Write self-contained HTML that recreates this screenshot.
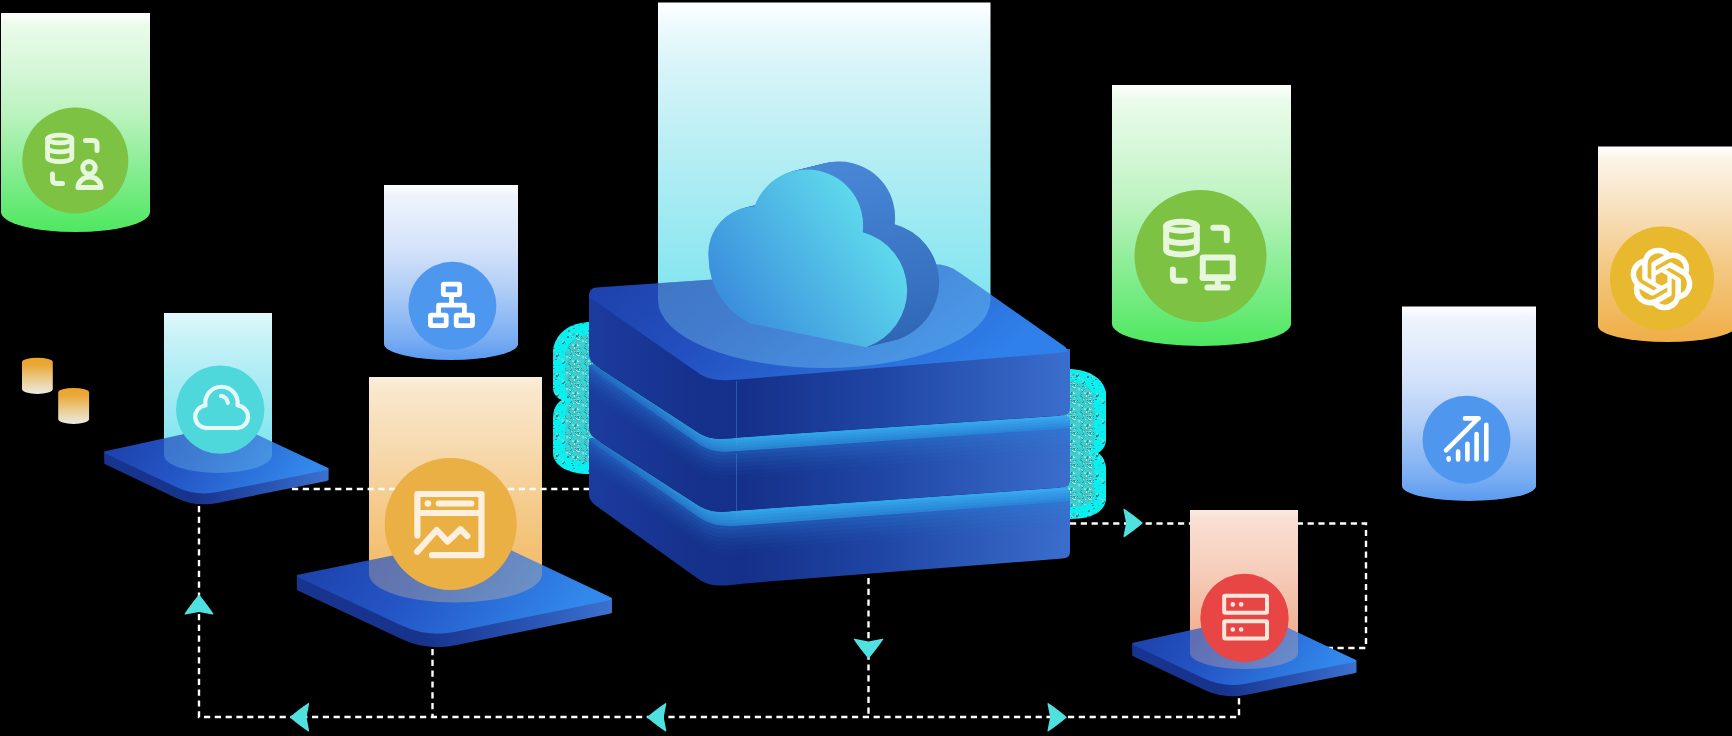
<!DOCTYPE html>
<html><head><meta charset="utf-8"><style>
html,body{margin:0;padding:0;background:#000;width:1732px;height:736px;overflow:hidden}
svg{display:block}
</style></head><body>
<svg width="1732" height="736" viewBox="0 0 1732 736">
<defs><linearGradient id="gA" gradientUnits="objectBoundingBox" x1="0" y1="0" x2="0" y2="1"><stop offset="0" stop-color="#ffffff"/><stop offset="0.06" stop-color="#eafbea"/><stop offset="0.25" stop-color="#d6f7d8"/><stop offset="0.45" stop-color="#bdf3c0"/><stop offset="0.75" stop-color="#80ec8c"/><stop offset="1" stop-color="#4ee860"/></linearGradient>
<linearGradient id="gB" gradientUnits="objectBoundingBox" x1="0" y1="0" x2="0" y2="1"><stop offset="0" stop-color="#ffffff"/><stop offset="0.06" stop-color="#eef4fd"/><stop offset="0.37" stop-color="#d4e2fa"/><stop offset="0.6" stop-color="#b0cdf6"/><stop offset="0.89" stop-color="#78acf2"/><stop offset="1" stop-color="#5a9af0"/></linearGradient>
<linearGradient id="gS" gradientUnits="objectBoundingBox" x1="0" y1="0" x2="0" y2="1"><stop offset="0" stop-color="#eca42a"/><stop offset="0.2" stop-color="#eaa838"/><stop offset="0.6" stop-color="#e9cc90"/><stop offset="1" stop-color="#ecebe4"/></linearGradient>
<linearGradient id="gC" gradientUnits="objectBoundingBox" x1="0" y1="0" x2="0" y2="1"><stop offset="0" stop-color="#ffffff"/><stop offset="0.05" stop-color="#f0fbfd"/><stop offset="0.16" stop-color="#daf5f9"/><stop offset="0.4" stop-color="#b8eef4"/><stop offset="0.76" stop-color="#88e6f0"/><stop offset="1" stop-color="#70e0ee"/></linearGradient>
<linearGradient id="p1t" gradientUnits="objectBoundingBox" x1="0" y1="0" x2="1" y2="0.2"><stop offset="0" stop-color="#1c3ea6"/><stop offset="0.45" stop-color="#2456c6"/><stop offset="1" stop-color="#3288ec"/></linearGradient>
<linearGradient id="p1s" gradientUnits="objectBoundingBox" x1="0" y1="0" x2="1" y2="0"><stop offset="0" stop-color="#17348f"/><stop offset="0.4" stop-color="#18338c"/><stop offset="0.75" stop-color="#2a55b4"/><stop offset="1" stop-color="#3d72d0"/></linearGradient>
<linearGradient id="gD" gradientUnits="objectBoundingBox" x1="0" y1="0" x2="0" y2="1"><stop offset="0" stop-color="#ffffff"/><stop offset="0.06" stop-color="#fcf4e8"/><stop offset="0.3" stop-color="#f8e2c2"/><stop offset="0.6" stop-color="#f4c986"/><stop offset="1" stop-color="#f0ae46"/></linearGradient>
<linearGradient id="p2t" gradientUnits="objectBoundingBox" x1="0" y1="0" x2="1" y2="0.2"><stop offset="0" stop-color="#1c3ea6"/><stop offset="0.45" stop-color="#2456c6"/><stop offset="1" stop-color="#3288ec"/></linearGradient>
<linearGradient id="p2s" gradientUnits="objectBoundingBox" x1="0" y1="0" x2="1" y2="0"><stop offset="0" stop-color="#17348f"/><stop offset="0.4" stop-color="#18338c"/><stop offset="0.75" stop-color="#2a55b4"/><stop offset="1" stop-color="#3d72d0"/></linearGradient>
<linearGradient id="gE" gradientUnits="objectBoundingBox" x1="0" y1="0" x2="0" y2="1"><stop offset="0" stop-color="#ffffff"/><stop offset="0.05" stop-color="#f0fbfd"/><stop offset="0.16" stop-color="#daf5f9"/><stop offset="0.4" stop-color="#b8eef4"/><stop offset="0.76" stop-color="#88e6f0"/><stop offset="1" stop-color="#70e0ee"/></linearGradient>
<pattern id="spk" width="16" height="16" patternUnits="userSpaceOnUse"><rect width="16" height="16" fill="#40cccc"/><rect x="14" y="14" width="2" height="2" fill="#2cb0b0"/><rect x="6" y="5" width="2" height="2" fill="#00eeee"/><rect x="5" y="3" width="2" height="1" fill="#40b4b4"/><rect x="2" y="1" width="2" height="1" fill="#b4ecec"/><rect x="5" y="0" width="1" height="1" fill="#1e9c9c"/><rect x="6" y="7" width="1" height="1" fill="#60c8c8"/><rect x="14" y="6" width="1" height="2" fill="#60c8c8"/><rect x="15" y="0" width="1" height="1" fill="#b4ecec"/><rect x="8" y="13" width="1" height="2" fill="#60c8c8"/><rect x="10" y="7" width="1" height="1" fill="#1e9c9c"/><rect x="3" y="12" width="1" height="1" fill="#8adcdc"/><rect x="2" y="0" width="1" height="1" fill="#40b4b4"/><rect x="1" y="15" width="2" height="2" fill="#8adcdc"/><rect x="13" y="2" width="1" height="2" fill="#60c8c8"/><rect x="10" y="2" width="1" height="1" fill="#1e9c9c"/><rect x="13" y="3" width="1" height="1" fill="#b4ecec"/><rect x="3" y="0" width="1" height="1" fill="#2cb0b0"/><rect x="15" y="5" width="1" height="1" fill="#00eeee"/><rect x="6" y="4" width="2" height="2" fill="#8adcdc"/><rect x="3" y="12" width="2" height="1" fill="#1e9c9c"/><rect x="8" y="9" width="1" height="1" fill="#40b4b4"/><rect x="12" y="3" width="1" height="1" fill="#40b4b4"/><rect x="14" y="8" width="1" height="2" fill="#60c8c8"/><rect x="9" y="12" width="1" height="1" fill="#1e9c9c"/><rect x="6" y="7" width="1" height="2" fill="#60c8c8"/><rect x="11" y="14" width="1" height="2" fill="#8adcdc"/><rect x="4" y="12" width="1" height="2" fill="#40b4b4"/><rect x="9" y="7" width="1" height="2" fill="#40b4b4"/><rect x="5" y="6" width="2" height="1" fill="#00eeee"/><rect x="2" y="13" width="1" height="1" fill="#1e9c9c"/><rect x="1" y="8" width="1" height="2" fill="#b4ecec"/><rect x="12" y="8" width="2" height="2" fill="#8adcdc"/><rect x="9" y="5" width="1" height="1" fill="#40b4b4"/><rect x="15" y="2" width="1" height="1" fill="#40b4b4"/><rect x="0" y="2" width="1" height="1" fill="#8adcdc"/><rect x="7" y="1" width="1" height="1" fill="#60c8c8"/><rect x="11" y="4" width="1" height="1" fill="#40b4b4"/><rect x="14" y="10" width="1" height="2" fill="#1e9c9c"/><rect x="0" y="15" width="1" height="2" fill="#60c8c8"/><rect x="1" y="0" width="1" height="1" fill="#1e9c9c"/><rect x="9" y="10" width="1" height="1" fill="#1e9c9c"/><rect x="14" y="11" width="1" height="2" fill="#b4ecec"/><rect x="4" y="10" width="1" height="1" fill="#b4ecec"/><rect x="15" y="2" width="2" height="1" fill="#2cb0b0"/><rect x="15" y="0" width="2" height="1" fill="#00eeee"/><rect x="0" y="2" width="1" height="1" fill="#b4ecec"/><rect x="3" y="8" width="2" height="2" fill="#60c8c8"/><rect x="12" y="14" width="2" height="1" fill="#2cb0b0"/><rect x="2" y="0" width="1" height="2" fill="#1e9c9c"/><rect x="15" y="0" width="1" height="2" fill="#1e9c9c"/><rect x="15" y="15" width="1" height="1" fill="#60c8c8"/><rect x="9" y="4" width="1" height="2" fill="#40b4b4"/><rect x="10" y="14" width="2" height="1" fill="#60c8c8"/><rect x="12" y="8" width="1" height="2" fill="#8adcdc"/><rect x="6" y="6" width="2" height="1" fill="#00eeee"/><rect x="10" y="6" width="1" height="1" fill="#8adcdc"/><rect x="11" y="1" width="1" height="1" fill="#2cb0b0"/><rect x="5" y="3" width="2" height="1" fill="#60c8c8"/><rect x="6" y="13" width="2" height="2" fill="#00eeee"/><rect x="15" y="10" width="2" height="1" fill="#1e9c9c"/><rect x="1" y="8" width="1" height="2" fill="#b4ecec"/><rect x="8" y="11" width="1" height="2" fill="#2cb0b0"/><rect x="0" y="4" width="2" height="1" fill="#40b4b4"/><rect x="0" y="8" width="1" height="1" fill="#2cb0b0"/><rect x="1" y="3" width="2" height="1" fill="#b4ecec"/><rect x="11" y="2" width="1" height="1" fill="#2cb0b0"/><rect x="15" y="8" width="1" height="2" fill="#1e9c9c"/><rect x="15" y="1" width="1" height="1" fill="#60c8c8"/><rect x="11" y="5" width="2" height="2" fill="#40b4b4"/><rect x="2" y="13" width="2" height="1" fill="#8adcdc"/><rect x="14" y="6" width="1" height="1" fill="#00eeee"/><rect x="10" y="14" width="1" height="2" fill="#40b4b4"/><rect x="3" y="3" width="1" height="1" fill="#8adcdc"/><rect x="2" y="9" width="1" height="1" fill="#b4ecec"/><rect x="0" y="11" width="1" height="1" fill="#8adcdc"/><rect x="10" y="13" width="1" height="1" fill="#1e9c9c"/><rect x="6" y="2" width="2" height="1" fill="#40b4b4"/><rect x="10" y="4" width="2" height="1" fill="#00eeee"/><rect x="14" y="15" width="1" height="1" fill="#8adcdc"/><rect x="9" y="5" width="1" height="1" fill="#b4ecec"/><rect x="12" y="6" width="1" height="1" fill="#00eeee"/><rect x="8" y="15" width="1" height="1" fill="#00eeee"/><rect x="3" y="0" width="2" height="1" fill="#00eeee"/><rect x="1" y="12" width="1" height="1" fill="#1e9c9c"/><rect x="5" y="2" width="2" height="1" fill="#2cb0b0"/><rect x="12" y="8" width="1" height="1" fill="#8adcdc"/><rect x="4" y="10" width="2" height="1" fill="#00eeee"/><rect x="10" y="3" width="1" height="1" fill="#00eeee"/><rect x="0" y="8" width="1" height="2" fill="#2cb0b0"/><rect x="0" y="1" width="1" height="1" fill="#40b4b4"/></pattern>
<pattern id="rim" width="20" height="20" patternUnits="userSpaceOnUse"><rect width="20" height="20" fill="#08f0f0"/><rect x="18" y="5" width="2" height="1" fill="#40c0c0"/><rect x="15" y="17" width="2" height="1" fill="#40c0c0"/><rect x="16" y="15" width="2" height="2" fill="#0a8a8a"/><rect x="9" y="13" width="2" height="2" fill="#70d8d8"/><rect x="1" y="19" width="2" height="2" fill="#70d8d8"/><rect x="8" y="10" width="2" height="2" fill="#20a0a0"/><rect x="3" y="1" width="2" height="2" fill="#20a0a0"/><rect x="2" y="11" width="1" height="2" fill="#40c0c0"/><rect x="7" y="16" width="2" height="2" fill="#0a8a8a"/><rect x="11" y="16" width="2" height="2" fill="#70d8d8"/><rect x="12" y="5" width="2" height="1" fill="#0a8a8a"/><rect x="11" y="17" width="1" height="1" fill="#20a0a0"/><rect x="2" y="3" width="2" height="1" fill="#0a8a8a"/><rect x="13" y="8" width="2" height="1" fill="#20a0a0"/><rect x="12" y="14" width="2" height="2" fill="#40c0c0"/><rect x="18" y="17" width="2" height="2" fill="#70d8d8"/><rect x="2" y="0" width="2" height="2" fill="#70d8d8"/><rect x="11" y="3" width="2" height="1" fill="#0a8a8a"/><rect x="17" y="14" width="2" height="2" fill="#20a0a0"/><rect x="15" y="19" width="2" height="1" fill="#0a8a8a"/><rect x="19" y="9" width="2" height="2" fill="#70d8d8"/><rect x="16" y="13" width="2" height="2" fill="#70d8d8"/><rect x="12" y="0" width="2" height="2" fill="#40c0c0"/><rect x="5" y="3" width="1" height="2" fill="#40c0c0"/><rect x="19" y="9" width="2" height="1" fill="#40c0c0"/><rect x="13" y="13" width="2" height="2" fill="#40c0c0"/></pattern>
<linearGradient id="stS" gradientUnits="objectBoundingBox" x1="0" y1="0" x2="1" y2="0"><stop offset="0" stop-color="#1b3b9e"/><stop offset="0.22453222453222454" stop-color="#16318c"/><stop offset="0.32432432432432434" stop-color="#15308a"/><stop offset="0.6" stop-color="#1f45a4"/><stop offset="1" stop-color="#3a6ecd"/></linearGradient>
<linearGradient id="bdS" gradientUnits="objectBoundingBox" x1="0" y1="0" x2="1" y2="0"><stop offset="0" stop-color="#2470c4"/><stop offset="0.22453222453222454" stop-color="#2c92da"/><stop offset="0.32432432432432434" stop-color="#30a4e6"/><stop offset="0.6" stop-color="#32a4ea"/><stop offset="1" stop-color="#38a8f2"/></linearGradient>
<linearGradient id="topF" gradientUnits="objectBoundingBox" x1="0" y1="0" x2="1" y2="0.3"><stop offset="0" stop-color="#1d3fa8"/><stop offset="0.4" stop-color="#2350c0"/><stop offset="1" stop-color="#2f80ea"/></linearGradient>
<clipPath id="topclip"><path d="M589,296 Q589,288 596,287.5 L930,264.5 Q947,263 960,273 L1064,346 Q1070,350.5 1066,352.3 L745,379 C725,380.6 710,382 697,372 L589,297 Z"/></clipPath>
<linearGradient id="cx" gradientUnits="objectBoundingBox" x1="0" y1="0" x2="0" y2="1"><stop offset="0" stop-color="#4a86d6"/><stop offset="1" stop-color="#2f68b6"/></linearGradient>
<linearGradient id="cext" gradientUnits="userSpaceOnUse" x1="0" y1="160" x2="0" y2="350"><stop offset="0" stop-color="#4a88d8"/><stop offset="1" stop-color="#2e66b4"/></linearGradient>
<linearGradient id="cfront" gradientUnits="userSpaceOnUse" x1="730" y1="320" x2="890" y2="210"><stop offset="0" stop-color="#3a8cdc"/><stop offset="1" stop-color="#62e2ee"/></linearGradient>
<linearGradient id="gF" gradientUnits="objectBoundingBox" x1="0" y1="0" x2="0" y2="1"><stop offset="0" stop-color="#ffffff"/><stop offset="0.06" stop-color="#eafbea"/><stop offset="0.25" stop-color="#d6f7d8"/><stop offset="0.45" stop-color="#bdf3c0"/><stop offset="0.75" stop-color="#80ec8c"/><stop offset="1" stop-color="#4ee860"/></linearGradient>
<linearGradient id="gG" gradientUnits="objectBoundingBox" x1="0" y1="0" x2="0" y2="1"><stop offset="0" stop-color="#ffffff"/><stop offset="0.06" stop-color="#eef4fd"/><stop offset="0.37" stop-color="#d4e2fa"/><stop offset="0.6" stop-color="#b0cdf6"/><stop offset="0.89" stop-color="#78acf2"/><stop offset="1" stop-color="#5a9af0"/></linearGradient>
<linearGradient id="gH" gradientUnits="objectBoundingBox" x1="0" y1="0" x2="0" y2="1"><stop offset="0" stop-color="#ffffff"/><stop offset="0.06" stop-color="#fcf4e8"/><stop offset="0.3" stop-color="#f8e2c2"/><stop offset="0.6" stop-color="#f4c986"/><stop offset="1" stop-color="#f0ae46"/></linearGradient>
<linearGradient id="gI" gradientUnits="objectBoundingBox" x1="0" y1="0" x2="0" y2="1"><stop offset="0" stop-color="#ffffff"/><stop offset="0.06" stop-color="#fcf0ea"/><stop offset="0.35" stop-color="#f8dacb"/><stop offset="0.7" stop-color="#f2b49a"/><stop offset="1" stop-color="#ee9474"/></linearGradient>
<linearGradient id="p3t" gradientUnits="objectBoundingBox" x1="0" y1="0" x2="1" y2="0.2"><stop offset="0" stop-color="#1c3ea6"/><stop offset="0.45" stop-color="#2456c6"/><stop offset="1" stop-color="#3288ec"/></linearGradient>
<linearGradient id="p3s" gradientUnits="objectBoundingBox" x1="0" y1="0" x2="1" y2="0"><stop offset="0" stop-color="#17348f"/><stop offset="0.4" stop-color="#18338c"/><stop offset="0.75" stop-color="#2a55b4"/><stop offset="1" stop-color="#3d72d0"/></linearGradient></defs>
<rect width="1732" height="736" fill="#000"/>
<path d="M199,506 V717 H1239 V697" stroke="#ffffff" stroke-width="2.4" stroke-dasharray="6.2 4.6" fill="none"/>
<path d="M432.5,649 V717" stroke="#ffffff" stroke-width="2.4" stroke-dasharray="6.2 4.6" fill="none"/>
<path d="M868.5,578 V717" stroke="#ffffff" stroke-width="2.4" stroke-dasharray="6.2 4.6" fill="none"/>
<path d="M1070,523.5 H1366 V648 H1320" stroke="#ffffff" stroke-width="2.4" stroke-dasharray="6.2 4.6" fill="none"/>
<path d="M1.0,13.0 H150.0 V212.0 A74.5,20.0 0 0 1 1.0,212.0 Z" fill="url(#gA)" opacity="1.0"/>
<circle cx="75.3" cy="160.6" r="53" fill="#7dc242"/>
<g fill="none" stroke="#e6f7dc" stroke-width="4.8" stroke-linecap="round"><ellipse cx="59.7" cy="139.0" rx="12.1" ry="3.8"/><path d="M47.6,139.0 V157.8 A12.1,3.8 0 0 0 71.8,157.8 V139.0"/><path d="M47.6,148.0 A12.1,3.8 0 0 0 71.8,148.0"/></g>
<g fill="none" stroke="#e6f7dc" stroke-width="5" stroke-linecap="round" stroke-linejoin="round">
<path d="M85.5,140.5 H93 Q97,140.5 97,144.5 V150.5"/>
<path d="M52.5,174 V179.5 Q52.5,183.5 56.5,183.5 H62.5"/>
<circle cx="89" cy="167.8" r="6.2"/>
<path d="M78,187.6 A11.5,10.5 0 0 1 101,187.6 Z"/>
</g>
<path d="M384.0,185.0 H518.0 V344.0 A67.0,16.0 0 0 1 384.0,344.0 Z" fill="url(#gB)" opacity="1.0"/>
<circle cx="452.4" cy="305.8" r="44" fill="#4d97ef"/>
<g fill="none" stroke="#ffffff" stroke-width="4.8" stroke-linejoin="round">
<rect x="443.3" y="284.1" width="16.3" height="10.5" rx="1"/>
<rect x="430.4" y="315.1" width="15.8" height="10.5" rx="1"/>
<rect x="456.2" y="315.1" width="16.3" height="10.5" rx="1"/>
<path d="M451.5,294.5 V305.2 M438.6,315 V305.2 H464.4 V315"/>
</g>
<path d="M22,362 A15.4,4.2 0 0 1 52.8,362 V389 A15.4,5 0 0 1 22,389 Z" fill="url(#gS)"/>
<path d="M58.2,392.2 A15.45,4.2 0 0 1 89.1,392.2 V419 A15.45,5 0 0 1 58.2,419 Z" fill="url(#gS)"/>
<path d="M164.0,313.0 H272.0 V455.0 A54.0,18.0 0 0 1 164.0,455.0 Z" fill="url(#gC)" opacity="1.0"/>
<g fill="url(#p1s)"><path transform="translate(0,10.80)" d="M105.8,453.7 Q102.2,452.0 106.1,451.1 L223.2,425.6 Q233.0,423.5 242.1,427.7 L327.1,467.6 Q330.7,469.3 326.8,470.1 L217.6,492.1 Q196.0,496.5 176.1,487.1 Z"/><path transform="translate(0,9.82)" d="M105.8,453.7 Q102.2,452.0 106.1,451.1 L223.2,425.6 Q233.0,423.5 242.1,427.7 L327.1,467.6 Q330.7,469.3 326.8,470.1 L217.6,492.1 Q196.0,496.5 176.1,487.1 Z"/><path transform="translate(0,8.84)" d="M105.8,453.7 Q102.2,452.0 106.1,451.1 L223.2,425.6 Q233.0,423.5 242.1,427.7 L327.1,467.6 Q330.7,469.3 326.8,470.1 L217.6,492.1 Q196.0,496.5 176.1,487.1 Z"/><path transform="translate(0,7.85)" d="M105.8,453.7 Q102.2,452.0 106.1,451.1 L223.2,425.6 Q233.0,423.5 242.1,427.7 L327.1,467.6 Q330.7,469.3 326.8,470.1 L217.6,492.1 Q196.0,496.5 176.1,487.1 Z"/><path transform="translate(0,6.87)" d="M105.8,453.7 Q102.2,452.0 106.1,451.1 L223.2,425.6 Q233.0,423.5 242.1,427.7 L327.1,467.6 Q330.7,469.3 326.8,470.1 L217.6,492.1 Q196.0,496.5 176.1,487.1 Z"/><path transform="translate(0,5.89)" d="M105.8,453.7 Q102.2,452.0 106.1,451.1 L223.2,425.6 Q233.0,423.5 242.1,427.7 L327.1,467.6 Q330.7,469.3 326.8,470.1 L217.6,492.1 Q196.0,496.5 176.1,487.1 Z"/><path transform="translate(0,4.91)" d="M105.8,453.7 Q102.2,452.0 106.1,451.1 L223.2,425.6 Q233.0,423.5 242.1,427.7 L327.1,467.6 Q330.7,469.3 326.8,470.1 L217.6,492.1 Q196.0,496.5 176.1,487.1 Z"/><path transform="translate(0,3.93)" d="M105.8,453.7 Q102.2,452.0 106.1,451.1 L223.2,425.6 Q233.0,423.5 242.1,427.7 L327.1,467.6 Q330.7,469.3 326.8,470.1 L217.6,492.1 Q196.0,496.5 176.1,487.1 Z"/><path transform="translate(0,2.95)" d="M105.8,453.7 Q102.2,452.0 106.1,451.1 L223.2,425.6 Q233.0,423.5 242.1,427.7 L327.1,467.6 Q330.7,469.3 326.8,470.1 L217.6,492.1 Q196.0,496.5 176.1,487.1 Z"/><path transform="translate(0,1.96)" d="M105.8,453.7 Q102.2,452.0 106.1,451.1 L223.2,425.6 Q233.0,423.5 242.1,427.7 L327.1,467.6 Q330.7,469.3 326.8,470.1 L217.6,492.1 Q196.0,496.5 176.1,487.1 Z"/><path transform="translate(0,0.98)" d="M105.8,453.7 Q102.2,452.0 106.1,451.1 L223.2,425.6 Q233.0,423.5 242.1,427.7 L327.1,467.6 Q330.7,469.3 326.8,470.1 L217.6,492.1 Q196.0,496.5 176.1,487.1 Z"/></g><path d="M105.8,453.7 Q102.2,452.0 106.1,451.1 L223.2,425.6 Q233.0,423.5 242.1,427.7 L327.1,467.6 Q330.7,469.3 326.8,470.1 L217.6,492.1 Q196.0,496.5 176.1,487.1 Z" fill="url(#p1t)"/>
<path d="M164.0,313.0 H272.0 V455.0 A54.0,18.0 0 0 1 164.0,455.0 Z" fill="#8ee6f2" opacity="0.25"/>
<circle cx="220.2" cy="409.6" r="44.2" fill="#4fd8dc"/>
<g fill="none" stroke="#e6fafa" stroke-width="4.2" stroke-linecap="round" stroke-linejoin="round">
<path d="M207.5,428 H236 A11.2,11.2 0 0 0 237.5,405.5 A16.2,16.2 0 1 0 205.5,405.5 A11.2,11.2 0 0 0 207.5,428 Z"/>
<path d="M221,395.8 A8,8 0 0 1 227.8,402.8"/>
</g>
<path d="M369.0,377.0 H542.0 V574.0 A86.5,28.5 0 0 1 369.0,574.0 Z" fill="url(#gD)" opacity="1.0"/>
<g fill="url(#p2s)"><path transform="translate(0,13.50)" d="M298.8,577.5 Q294.3,575.4 299.2,574.4 L471.5,539.6 Q483.3,537.2 494.1,542.3 L610.0,597.1 Q614.5,599.2 609.6,600.2 L454.4,631.9 Q427.0,637.5 401.6,625.6 Z"/><path transform="translate(0,12.54)" d="M298.8,577.5 Q294.3,575.4 299.2,574.4 L471.5,539.6 Q483.3,537.2 494.1,542.3 L610.0,597.1 Q614.5,599.2 609.6,600.2 L454.4,631.9 Q427.0,637.5 401.6,625.6 Z"/><path transform="translate(0,11.57)" d="M298.8,577.5 Q294.3,575.4 299.2,574.4 L471.5,539.6 Q483.3,537.2 494.1,542.3 L610.0,597.1 Q614.5,599.2 609.6,600.2 L454.4,631.9 Q427.0,637.5 401.6,625.6 Z"/><path transform="translate(0,10.61)" d="M298.8,577.5 Q294.3,575.4 299.2,574.4 L471.5,539.6 Q483.3,537.2 494.1,542.3 L610.0,597.1 Q614.5,599.2 609.6,600.2 L454.4,631.9 Q427.0,637.5 401.6,625.6 Z"/><path transform="translate(0,9.64)" d="M298.8,577.5 Q294.3,575.4 299.2,574.4 L471.5,539.6 Q483.3,537.2 494.1,542.3 L610.0,597.1 Q614.5,599.2 609.6,600.2 L454.4,631.9 Q427.0,637.5 401.6,625.6 Z"/><path transform="translate(0,8.68)" d="M298.8,577.5 Q294.3,575.4 299.2,574.4 L471.5,539.6 Q483.3,537.2 494.1,542.3 L610.0,597.1 Q614.5,599.2 609.6,600.2 L454.4,631.9 Q427.0,637.5 401.6,625.6 Z"/><path transform="translate(0,7.71)" d="M298.8,577.5 Q294.3,575.4 299.2,574.4 L471.5,539.6 Q483.3,537.2 494.1,542.3 L610.0,597.1 Q614.5,599.2 609.6,600.2 L454.4,631.9 Q427.0,637.5 401.6,625.6 Z"/><path transform="translate(0,6.75)" d="M298.8,577.5 Q294.3,575.4 299.2,574.4 L471.5,539.6 Q483.3,537.2 494.1,542.3 L610.0,597.1 Q614.5,599.2 609.6,600.2 L454.4,631.9 Q427.0,637.5 401.6,625.6 Z"/><path transform="translate(0,5.79)" d="M298.8,577.5 Q294.3,575.4 299.2,574.4 L471.5,539.6 Q483.3,537.2 494.1,542.3 L610.0,597.1 Q614.5,599.2 609.6,600.2 L454.4,631.9 Q427.0,637.5 401.6,625.6 Z"/><path transform="translate(0,4.82)" d="M298.8,577.5 Q294.3,575.4 299.2,574.4 L471.5,539.6 Q483.3,537.2 494.1,542.3 L610.0,597.1 Q614.5,599.2 609.6,600.2 L454.4,631.9 Q427.0,637.5 401.6,625.6 Z"/><path transform="translate(0,3.86)" d="M298.8,577.5 Q294.3,575.4 299.2,574.4 L471.5,539.6 Q483.3,537.2 494.1,542.3 L610.0,597.1 Q614.5,599.2 609.6,600.2 L454.4,631.9 Q427.0,637.5 401.6,625.6 Z"/><path transform="translate(0,2.89)" d="M298.8,577.5 Q294.3,575.4 299.2,574.4 L471.5,539.6 Q483.3,537.2 494.1,542.3 L610.0,597.1 Q614.5,599.2 609.6,600.2 L454.4,631.9 Q427.0,637.5 401.6,625.6 Z"/><path transform="translate(0,1.93)" d="M298.8,577.5 Q294.3,575.4 299.2,574.4 L471.5,539.6 Q483.3,537.2 494.1,542.3 L610.0,597.1 Q614.5,599.2 609.6,600.2 L454.4,631.9 Q427.0,637.5 401.6,625.6 Z"/><path transform="translate(0,0.96)" d="M298.8,577.5 Q294.3,575.4 299.2,574.4 L471.5,539.6 Q483.3,537.2 494.1,542.3 L610.0,597.1 Q614.5,599.2 609.6,600.2 L454.4,631.9 Q427.0,637.5 401.6,625.6 Z"/></g><path d="M298.8,577.5 Q294.3,575.4 299.2,574.4 L471.5,539.6 Q483.3,537.2 494.1,542.3 L610.0,597.1 Q614.5,599.2 609.6,600.2 L454.4,631.9 Q427.0,637.5 401.6,625.6 Z" fill="url(#p2t)"/>
<path d="M369.0,377.0 H542.0 V574.0 A86.5,28.5 0 0 1 369.0,574.0 Z" fill="#f5c98a" opacity="0.3"/>
<path d="M292,489 H590" stroke="#ffffff" stroke-width="2.4" stroke-dasharray="6.2 4.6" fill="none"/>
<circle cx="450.7" cy="524" r="66" fill="#eab044"/>
<g fill="none" stroke="#fdf0de" stroke-width="6.2" stroke-linecap="round" stroke-linejoin="round">
<path d="M417.4,535.5 V494 H481.5 V555.2 H432"/>
<path d="M420.5,513 H478.4"/>
<path d="M438.7,503.5 H471.3"/>
<path d="M417,551.8 L436.7,530 L447.6,541.6 L460.5,529.3 L467.3,536.1"/>
</g>
<circle cx="427.9" cy="503.5" r="3.3" fill="#fdf0de"/>
<path d="M658.0,2.5 H990.5 V300.0 A166.2,68.0 0 0 1 658.0,300.0 Z" fill="url(#gE)" opacity="1.0"/>
<path d="M600,322 L589,322 C570,323 556,332 553,350 L553,388 C553,394 557,398 562,400 C556,403 553,410 553,418 L553,455 C555,466 568,474 589,474 L600,474 Z" fill="url(#rim)"/><path d="M1060,369 L1070,369 C1090,370 1103,378 1106,392 L1106,440 C1106,446 1102,451 1098,453 C1103,456 1106,462 1106,468 L1106,500 C1104,512 1092,519 1070,519 L1060,519 Z" fill="url(#rim)"/>
<path d="M600,334 L589,334 C578,336 566,342 565,356 L565,386 C565,392 568,398 572,400 C567,404 565,410 565,418 L565,450 C567,458 576,462 589,462 L600,462 Z" fill="url(#spk)"/>
<path d="M1060,381 L1070,381 C1082,382 1092,386 1094,398 L1094,438 C1094,446 1092,451 1088,453 C1092,456 1094,462 1094,468 L1094,496 C1092,504 1084,507 1070,507 L1060,507 Z" fill="url(#spk)"/>
<path d="M589.0,441.7 Q589.0,434.7 598.1,440.6 L589.0,434.7 L697.0,504.5 C713.0,514.8 725.0,511.4 745.0,510.0 L1070.0,487.0 L1060.9,487.6 Q1070.0,487.0 1070.0,494.0 L1070.0,552.0 Q1070.0,558.0 1062.2,558.6 L745.0,583.4 C725.0,585.0 713.0,589.5 697.0,578.0 L596.8,506.3 Q589.0,500.7 589.0,494.7 Z" fill="url(#stS)"/><path d="M589.0,441.7 Q589.0,434.7 598.1,440.6 L589.0,434.7 L697.0,504.5 C713.0,514.8 725.0,511.4 745.0,510.0 L1070.0,487.0 L1060.9,487.6 Q1070.0,487.0 1070.0,494.0 L1070.0,501.0 L745.0,525.2 C725.0,526.7 713.0,527.1 697.0,516.0 L589.0,441.0 Z" fill="url(#bdS)"/><path d="M589.0,436.0 L589.0,436.0 L697.0,506.8 C713.0,517.3 725.0,514.5 745.0,513.0 L1070.0,489.8 L1070.0,492.6 L745.0,516.1 C725.0,517.5 713.0,519.7 697.0,509.1 L589.0,437.2 Z" fill="#1d4cb0" opacity="0.09"/><path d="M589.0,437.2 L589.0,437.2 L697.0,509.1 C713.0,519.7 725.0,517.5 745.0,516.1 L1070.0,492.6 L1070.0,495.4 L745.0,519.1 C725.0,520.6 713.0,522.2 697.0,511.4 L589.0,438.5 Z" fill="#1d4cb0" opacity="0.18"/><path d="M589.0,438.5 L589.0,438.5 L697.0,511.4 C713.0,522.2 725.0,520.6 745.0,519.1 L1070.0,495.4 L1070.0,498.2 L745.0,522.2 C725.0,523.6 713.0,524.7 697.0,513.7 L589.0,439.7 Z" fill="#1d4cb0" opacity="0.27"/><path d="M589.0,439.7 L589.0,439.7 L697.0,513.7 C713.0,524.7 725.0,523.6 745.0,522.2 L1070.0,498.2 L1070.0,501.0 L745.0,525.2 C725.0,526.7 713.0,527.1 697.0,516.0 L589.0,441.0 Z" fill="#1d4cb0" opacity="0.36"/><path d="M589.0,441.0 L589.0,441.0 L697.0,516.0 C713.0,527.1 725.0,526.7 745.0,525.2 L1070.0,501.0 L1070.0,505.0 L745.0,529.2 C725.0,530.7 713.0,531.1 697.0,520.0 L589.0,445.0 Z" fill="#2a80d8" opacity="0.42"/><path d="M589.0,445.0 L589.0,445.0 L697.0,520.0 C713.0,531.1 725.0,530.7 745.0,529.2 L1070.0,505.0 L1070.0,509.0 L745.0,533.2 C725.0,534.7 713.0,535.1 697.0,524.0 L589.0,449.0 Z" fill="#2a80d8" opacity="0.33"/><path d="M589.0,449.0 L589.0,449.0 L697.0,524.0 C713.0,535.1 725.0,534.7 745.0,533.2 L1070.0,509.0 L1070.0,513.0 L745.0,537.2 C725.0,538.7 713.0,539.1 697.0,528.0 L589.0,453.0 Z" fill="#2a80d8" opacity="0.25"/><path d="M589.0,453.0 L589.0,453.0 L697.0,528.0 C713.0,539.1 725.0,538.7 745.0,537.2 L1070.0,513.0 L1070.0,517.0 L745.0,541.2 C725.0,542.7 713.0,543.1 697.0,532.0 L589.0,457.0 Z" fill="#2a80d8" opacity="0.17"/><path d="M589.0,457.0 L589.0,457.0 L697.0,532.0 C713.0,543.1 725.0,542.7 745.0,541.2 L1070.0,517.0 L1070.0,521.0 L745.0,545.2 C725.0,546.7 713.0,547.1 697.0,536.0 L589.0,461.0 Z" fill="#2a80d8" opacity="0.11"/><path d="M589.0,461.0 L589.0,461.0 L697.0,536.0 C713.0,547.1 725.0,546.7 745.0,545.2 L1070.0,521.0 L1070.0,525.0 L745.0,549.2 C725.0,550.7 713.0,551.1 697.0,540.0 L589.0,465.0 Z" fill="#2a80d8" opacity="0.06"/><path d="M589.0,465.0 L589.0,465.0 L697.0,540.0 C713.0,551.1 725.0,550.7 745.0,549.2 L1070.0,525.0 L1070.0,529.0 L745.0,553.2 C725.0,554.7 713.0,555.1 697.0,544.0 L589.0,469.0 Z" fill="#2a80d8" opacity="0.02"/>
<path d="M589.0,368.2 Q589.0,361.2 598.1,367.1 L589.0,361.2 L697.0,431.7 C713.0,442.1 725.0,438.4 745.0,437.0 L1070.0,415.0 L1060.9,415.6 Q1070.0,415.0 1070.0,422.0 L1070.0,481.0 Q1070.0,487.0 1062.2,487.6 L745.0,510.0 C725.0,511.4 713.0,514.8 697.0,504.5 L596.8,439.7 Q589.0,434.7 589.0,428.7 Z" fill="url(#stS)"/><path d="M589.0,368.2 Q589.0,361.2 598.1,367.1 L589.0,361.2 L697.0,431.7 C713.0,442.1 725.0,438.4 745.0,437.0 L1070.0,415.0 L1060.9,415.6 Q1070.0,415.0 1070.0,422.0 L1070.0,428.0 L745.0,450.6 C725.0,452.0 713.0,454.1 697.0,443.0 L589.0,368.0 Z" fill="url(#bdS)"/><path d="M589.0,362.6 L589.0,362.6 L697.0,434.0 C713.0,444.5 725.0,441.1 745.0,439.7 L1070.0,417.6 L1070.0,420.2 L745.0,442.4 C725.0,443.8 713.0,446.9 697.0,436.2 L589.0,363.9 Z" fill="#1d4cb0" opacity="0.09"/><path d="M589.0,363.9 L589.0,363.9 L697.0,436.2 C713.0,446.9 725.0,443.8 745.0,442.4 L1070.0,420.2 L1070.0,422.8 L745.0,445.2 C725.0,446.5 713.0,449.3 697.0,438.5 L589.0,365.3 Z" fill="#1d4cb0" opacity="0.18"/><path d="M589.0,365.3 L589.0,365.3 L697.0,438.5 C713.0,449.3 725.0,446.5 745.0,445.2 L1070.0,422.8 L1070.0,425.4 L745.0,447.9 C725.0,449.3 713.0,451.7 697.0,440.7 L589.0,366.6 Z" fill="#1d4cb0" opacity="0.27"/><path d="M589.0,366.6 L589.0,366.6 L697.0,440.7 C713.0,451.7 725.0,449.3 745.0,447.9 L1070.0,425.4 L1070.0,428.0 L745.0,450.6 C725.0,452.0 713.0,454.1 697.0,443.0 L589.0,368.0 Z" fill="#1d4cb0" opacity="0.36"/><path d="M589.0,368.0 L589.0,368.0 L697.0,443.0 C713.0,454.1 725.0,452.0 745.0,450.6 L1070.0,428.0 L1070.0,432.0 L745.0,454.6 C725.0,456.0 713.0,458.1 697.0,447.0 L589.0,372.0 Z" fill="#2a80d8" opacity="0.42"/><path d="M589.0,372.0 L589.0,372.0 L697.0,447.0 C713.0,458.1 725.0,456.0 745.0,454.6 L1070.0,432.0 L1070.0,436.0 L745.0,458.6 C725.0,460.0 713.0,462.1 697.0,451.0 L589.0,376.0 Z" fill="#2a80d8" opacity="0.33"/><path d="M589.0,376.0 L589.0,376.0 L697.0,451.0 C713.0,462.1 725.0,460.0 745.0,458.6 L1070.0,436.0 L1070.0,440.0 L745.0,462.6 C725.0,464.0 713.0,466.1 697.0,455.0 L589.0,380.0 Z" fill="#2a80d8" opacity="0.25"/><path d="M589.0,380.0 L589.0,380.0 L697.0,455.0 C713.0,466.1 725.0,464.0 745.0,462.6 L1070.0,440.0 L1070.0,444.0 L745.0,466.6 C725.0,468.0 713.0,470.1 697.0,459.0 L589.0,384.0 Z" fill="#2a80d8" opacity="0.17"/><path d="M589.0,384.0 L589.0,384.0 L697.0,459.0 C713.0,470.1 725.0,468.0 745.0,466.6 L1070.0,444.0 L1070.0,448.0 L745.0,470.6 C725.0,472.0 713.0,474.1 697.0,463.0 L589.0,388.0 Z" fill="#2a80d8" opacity="0.11"/><path d="M589.0,388.0 L589.0,388.0 L697.0,463.0 C713.0,474.1 725.0,472.0 745.0,470.6 L1070.0,448.0 L1070.0,452.0 L745.0,474.6 C725.0,476.0 713.0,478.1 697.0,467.0 L589.0,392.0 Z" fill="#2a80d8" opacity="0.06"/><path d="M589.0,392.0 L589.0,392.0 L697.0,467.0 C713.0,478.1 725.0,476.0 745.0,474.6 L1070.0,452.0 L1070.0,456.0 L745.0,478.6 C725.0,480.0 713.0,482.1 697.0,471.0 L589.0,396.0 Z" fill="#2a80d8" opacity="0.02"/>
<path d="M589.0,293.0 L589.0,293.0 L697.0,369.0 C713.0,380.3 725.0,377.7 745.0,376.0 L1070.0,349.0 L1070.0,409.0 Q1070.0,415.0 1062.2,415.5 L745.0,437.0 C725.0,438.4 713.0,442.1 697.0,431.7 L596.8,366.3 Q589.0,361.2 589.0,355.2 Z" fill="url(#stS)"/>
<path d="M736.5,381 V446 M736.5,454 V518" stroke="#4a9ae0" stroke-width="0.8" opacity="0.5"/>
<path d="M589,296 Q589,288 596,287.5 L930,264.5 Q947,263 960,273 L1064,346 Q1070,350.5 1066,352.3 L745,379 C725,380.6 710,382 697,372 L589,297 Z" fill="url(#topF)"/>
<path d="M658.0,2.5 H990.5 V300.0 A166.2,68.0 0 0 1 658.0,300.0 Z" fill="#8ee6f2" opacity="0.3" clip-path="url(#topclip)"/>
<g fill="url(#cext)"><path transform="translate(32.00,-8.00)" d="M749.8,323.3 A74,74 0 0 1 708.5,257.6 A46.5,46.5 0 0 1 754.3,206.8 A56,56 0 0 1 862.7,232.2 A60.2,60.2 0 0 1 866.3,347.3 Z"/><path transform="translate(30.67,-7.67)" d="M749.8,323.3 A74,74 0 0 1 708.5,257.6 A46.5,46.5 0 0 1 754.3,206.8 A56,56 0 0 1 862.7,232.2 A60.2,60.2 0 0 1 866.3,347.3 Z"/><path transform="translate(29.33,-7.33)" d="M749.8,323.3 A74,74 0 0 1 708.5,257.6 A46.5,46.5 0 0 1 754.3,206.8 A56,56 0 0 1 862.7,232.2 A60.2,60.2 0 0 1 866.3,347.3 Z"/><path transform="translate(28.00,-7.00)" d="M749.8,323.3 A74,74 0 0 1 708.5,257.6 A46.5,46.5 0 0 1 754.3,206.8 A56,56 0 0 1 862.7,232.2 A60.2,60.2 0 0 1 866.3,347.3 Z"/><path transform="translate(26.67,-6.67)" d="M749.8,323.3 A74,74 0 0 1 708.5,257.6 A46.5,46.5 0 0 1 754.3,206.8 A56,56 0 0 1 862.7,232.2 A60.2,60.2 0 0 1 866.3,347.3 Z"/><path transform="translate(25.33,-6.33)" d="M749.8,323.3 A74,74 0 0 1 708.5,257.6 A46.5,46.5 0 0 1 754.3,206.8 A56,56 0 0 1 862.7,232.2 A60.2,60.2 0 0 1 866.3,347.3 Z"/><path transform="translate(24.00,-6.00)" d="M749.8,323.3 A74,74 0 0 1 708.5,257.6 A46.5,46.5 0 0 1 754.3,206.8 A56,56 0 0 1 862.7,232.2 A60.2,60.2 0 0 1 866.3,347.3 Z"/><path transform="translate(22.67,-5.67)" d="M749.8,323.3 A74,74 0 0 1 708.5,257.6 A46.5,46.5 0 0 1 754.3,206.8 A56,56 0 0 1 862.7,232.2 A60.2,60.2 0 0 1 866.3,347.3 Z"/><path transform="translate(21.33,-5.33)" d="M749.8,323.3 A74,74 0 0 1 708.5,257.6 A46.5,46.5 0 0 1 754.3,206.8 A56,56 0 0 1 862.7,232.2 A60.2,60.2 0 0 1 866.3,347.3 Z"/><path transform="translate(20.00,-5.00)" d="M749.8,323.3 A74,74 0 0 1 708.5,257.6 A46.5,46.5 0 0 1 754.3,206.8 A56,56 0 0 1 862.7,232.2 A60.2,60.2 0 0 1 866.3,347.3 Z"/><path transform="translate(18.67,-4.67)" d="M749.8,323.3 A74,74 0 0 1 708.5,257.6 A46.5,46.5 0 0 1 754.3,206.8 A56,56 0 0 1 862.7,232.2 A60.2,60.2 0 0 1 866.3,347.3 Z"/><path transform="translate(17.33,-4.33)" d="M749.8,323.3 A74,74 0 0 1 708.5,257.6 A46.5,46.5 0 0 1 754.3,206.8 A56,56 0 0 1 862.7,232.2 A60.2,60.2 0 0 1 866.3,347.3 Z"/><path transform="translate(16.00,-4.00)" d="M749.8,323.3 A74,74 0 0 1 708.5,257.6 A46.5,46.5 0 0 1 754.3,206.8 A56,56 0 0 1 862.7,232.2 A60.2,60.2 0 0 1 866.3,347.3 Z"/><path transform="translate(14.67,-3.67)" d="M749.8,323.3 A74,74 0 0 1 708.5,257.6 A46.5,46.5 0 0 1 754.3,206.8 A56,56 0 0 1 862.7,232.2 A60.2,60.2 0 0 1 866.3,347.3 Z"/><path transform="translate(13.33,-3.33)" d="M749.8,323.3 A74,74 0 0 1 708.5,257.6 A46.5,46.5 0 0 1 754.3,206.8 A56,56 0 0 1 862.7,232.2 A60.2,60.2 0 0 1 866.3,347.3 Z"/><path transform="translate(12.00,-3.00)" d="M749.8,323.3 A74,74 0 0 1 708.5,257.6 A46.5,46.5 0 0 1 754.3,206.8 A56,56 0 0 1 862.7,232.2 A60.2,60.2 0 0 1 866.3,347.3 Z"/><path transform="translate(10.67,-2.67)" d="M749.8,323.3 A74,74 0 0 1 708.5,257.6 A46.5,46.5 0 0 1 754.3,206.8 A56,56 0 0 1 862.7,232.2 A60.2,60.2 0 0 1 866.3,347.3 Z"/><path transform="translate(9.33,-2.33)" d="M749.8,323.3 A74,74 0 0 1 708.5,257.6 A46.5,46.5 0 0 1 754.3,206.8 A56,56 0 0 1 862.7,232.2 A60.2,60.2 0 0 1 866.3,347.3 Z"/><path transform="translate(8.00,-2.00)" d="M749.8,323.3 A74,74 0 0 1 708.5,257.6 A46.5,46.5 0 0 1 754.3,206.8 A56,56 0 0 1 862.7,232.2 A60.2,60.2 0 0 1 866.3,347.3 Z"/><path transform="translate(6.67,-1.67)" d="M749.8,323.3 A74,74 0 0 1 708.5,257.6 A46.5,46.5 0 0 1 754.3,206.8 A56,56 0 0 1 862.7,232.2 A60.2,60.2 0 0 1 866.3,347.3 Z"/><path transform="translate(5.33,-1.33)" d="M749.8,323.3 A74,74 0 0 1 708.5,257.6 A46.5,46.5 0 0 1 754.3,206.8 A56,56 0 0 1 862.7,232.2 A60.2,60.2 0 0 1 866.3,347.3 Z"/><path transform="translate(4.00,-1.00)" d="M749.8,323.3 A74,74 0 0 1 708.5,257.6 A46.5,46.5 0 0 1 754.3,206.8 A56,56 0 0 1 862.7,232.2 A60.2,60.2 0 0 1 866.3,347.3 Z"/><path transform="translate(2.67,-0.67)" d="M749.8,323.3 A74,74 0 0 1 708.5,257.6 A46.5,46.5 0 0 1 754.3,206.8 A56,56 0 0 1 862.7,232.2 A60.2,60.2 0 0 1 866.3,347.3 Z"/><path transform="translate(1.33,-0.33)" d="M749.8,323.3 A74,74 0 0 1 708.5,257.6 A46.5,46.5 0 0 1 754.3,206.8 A56,56 0 0 1 862.7,232.2 A60.2,60.2 0 0 1 866.3,347.3 Z"/></g>
<path d="M749.8,323.3 A74,74 0 0 1 708.5,257.6 A46.5,46.5 0 0 1 754.3,206.8 A56,56 0 0 1 862.7,232.2 A60.2,60.2 0 0 1 866.3,347.3 Z" fill="url(#cfront)"/>
<path d="M1112.0,85.0 H1291.0 V324.0 A89.5,22.0 0 0 1 1112.0,324.0 Z" fill="url(#gF)" opacity="1.0"/>
<circle cx="1200.5" cy="256" r="66" fill="#7dc242"/>
<g fill="none" stroke="#e6f7dc" stroke-width="6" stroke-linecap="round"><ellipse cx="1181.5" cy="226.2" rx="15.3" ry="4.5"/><path d="M1166.2,226.2 V250.0 A15.3,4.5 0 0 0 1196.8,250.0 V226.2"/><path d="M1166.2,238.5 A15.3,4.5 0 0 0 1196.8,238.5"/></g>
<g fill="none" stroke="#e6f7dc" stroke-width="6" stroke-linecap="round" stroke-linejoin="round">
<path d="M1213.3,227.7 H1222.8 Q1226.8,227.7 1226.8,231.7 V240.3"/>
<path d="M1172.9,269.5 V276.7 Q1172.9,280.7 1176.9,280.7 H1184.8"/>
<path d="M1202.8,257.5 H1232.7 V277.6 H1202.8 Z" stroke-width="6"/>
<path d="M1202.8,277.8 H1232.7" stroke-width="6.6"/>
<path d="M1217.8,280 V286 M1207.4,287.5 H1227.4"/>
</g>
<path d="M1402.0,306.5 H1536.0 V486.0 A67.0,15.0 0 0 1 1402.0,486.0 Z" fill="url(#gG)" opacity="1.0"/>
<circle cx="1466.5" cy="439.7" r="44" fill="#4f96ef"/>
<g fill="none" stroke="#ffffff" stroke-width="4.6" stroke-linecap="round" stroke-linejoin="round">
<path d="M1446,450.4 L1478.2,418.4 M1465,418.4 H1478.6"/>
<path d="M1448.7,458.2 V459.6 M1458.1,451.5 V459.5 M1467.4,443.7 V459.5 M1476.6,434 V459.5 M1486.3,424.8 V459.5"/>
</g>
<path d="M1598.0,146.5 H1736.0 V326.0 A69.0,16.0 0 0 1 1598.0,326.0 Z" fill="url(#gH)" opacity="1.0"/>
<circle cx="1662" cy="278.5" r="52" fill="#e8b92e"/>
<path transform="translate(1631.00,248.50) scale(2.542)" d="M22.2819 9.8211a5.9847 5.9847 0 0 0-.5157-4.9108 6.0462 6.0462 0 0 0-6.5098-2.9A6.0651 6.0651 0 0 0 4.9807 4.1818a5.9847 5.9847 0 0 0-3.9977 2.9 6.0462 6.0462 0 0 0 .7427 7.0966 5.98 5.98 0 0 0 .511 4.9107 6.051 6.051 0 0 0 6.5146 2.9001A5.9847 5.9847 0 0 0 13.2599 24a6.0557 6.0557 0 0 0 5.7718-4.2058 5.9894 5.9894 0 0 0 3.9977-2.9001 6.0557 6.0557 0 0 0-.7475-7.0729zm-9.022 12.6081a4.4755 4.4755 0 0 1-2.8764-1.0408l.1419-.0804 4.7783-2.7582a.7948.7948 0 0 0 .3927-.6813v-6.7369l2.02 1.1686a.071.071 0 0 1 .038.052v5.5826a4.504 4.504 0 0 1-4.4945 4.4944zm-9.6607-4.1254a4.4708 4.4708 0 0 1-.5346-3.0137l.142.0852 4.783 2.7582a.7712.7712 0 0 0 .7806 0l5.8428-3.3685v2.3324a.0804.0804 0 0 1-.0332.0615L9.74 19.9502a4.4992 4.4992 0 0 1-6.1408-1.6464zM2.3408 7.8956a4.485 4.485 0 0 1 2.3655-1.9728V11.6a.7664.7664 0 0 0 .3879.6765l5.8144 3.3543-2.0201 1.1685a.0757.0757 0 0 1-.071 0l-4.8303-2.7865A4.504 4.504 0 0 1 2.3408 7.872zm16.5963 3.8558L13.1038 8.364 15.1192 7.2a.0757.0757 0 0 1 .071 0l4.8303 2.7913a4.4944 4.4944 0 0 1-.6765 8.1042v-5.6772a.79.79 0 0 0-.407-.667zm2.0107-3.0231l-.142-.0852-4.7735-2.7818a.7759.7759 0 0 0-.7854 0L9.409 9.2297V6.8974a.0662.0662 0 0 1 .0284-.0615l4.8303-2.7866a4.4992 4.4992 0 0 1 6.6802 4.66zM8.3065 12.863l-2.02-1.1638a.0804.0804 0 0 1-.038-.0567V6.0742a4.4992 4.4992 0 0 1 7.3757-3.4537l-.142.0805L8.704 5.459a.7948.7948 0 0 0-.3927.6813zm1.0976-2.3654l2.602-1.4998 2.6069 1.4998v2.9994l-2.5974 1.4997-2.6067-1.4997Z" fill="#ffffff" stroke="#ffffff" stroke-width="0.6" stroke-linejoin="round"/>
<path d="M1190.0,510.0 H1298.0 V653.0 A54.0,16.0 0 0 1 1190.0,653.0 Z" fill="url(#gI)" opacity="1.0"/>
<g fill="url(#p3s)"><path transform="translate(0,11.20)" d="M1133.8,645.2 Q1130.2,643.5 1134.1,642.6 L1251.2,617.1 Q1261.0,615.0 1270.0,619.3 L1354.9,659.5 Q1358.5,661.2 1354.6,662.0 L1245.6,683.7 Q1224.0,688.0 1204.1,678.6 Z"/><path transform="translate(0,10.27)" d="M1133.8,645.2 Q1130.2,643.5 1134.1,642.6 L1251.2,617.1 Q1261.0,615.0 1270.0,619.3 L1354.9,659.5 Q1358.5,661.2 1354.6,662.0 L1245.6,683.7 Q1224.0,688.0 1204.1,678.6 Z"/><path transform="translate(0,9.33)" d="M1133.8,645.2 Q1130.2,643.5 1134.1,642.6 L1251.2,617.1 Q1261.0,615.0 1270.0,619.3 L1354.9,659.5 Q1358.5,661.2 1354.6,662.0 L1245.6,683.7 Q1224.0,688.0 1204.1,678.6 Z"/><path transform="translate(0,8.40)" d="M1133.8,645.2 Q1130.2,643.5 1134.1,642.6 L1251.2,617.1 Q1261.0,615.0 1270.0,619.3 L1354.9,659.5 Q1358.5,661.2 1354.6,662.0 L1245.6,683.7 Q1224.0,688.0 1204.1,678.6 Z"/><path transform="translate(0,7.47)" d="M1133.8,645.2 Q1130.2,643.5 1134.1,642.6 L1251.2,617.1 Q1261.0,615.0 1270.0,619.3 L1354.9,659.5 Q1358.5,661.2 1354.6,662.0 L1245.6,683.7 Q1224.0,688.0 1204.1,678.6 Z"/><path transform="translate(0,6.53)" d="M1133.8,645.2 Q1130.2,643.5 1134.1,642.6 L1251.2,617.1 Q1261.0,615.0 1270.0,619.3 L1354.9,659.5 Q1358.5,661.2 1354.6,662.0 L1245.6,683.7 Q1224.0,688.0 1204.1,678.6 Z"/><path transform="translate(0,5.60)" d="M1133.8,645.2 Q1130.2,643.5 1134.1,642.6 L1251.2,617.1 Q1261.0,615.0 1270.0,619.3 L1354.9,659.5 Q1358.5,661.2 1354.6,662.0 L1245.6,683.7 Q1224.0,688.0 1204.1,678.6 Z"/><path transform="translate(0,4.67)" d="M1133.8,645.2 Q1130.2,643.5 1134.1,642.6 L1251.2,617.1 Q1261.0,615.0 1270.0,619.3 L1354.9,659.5 Q1358.5,661.2 1354.6,662.0 L1245.6,683.7 Q1224.0,688.0 1204.1,678.6 Z"/><path transform="translate(0,3.73)" d="M1133.8,645.2 Q1130.2,643.5 1134.1,642.6 L1251.2,617.1 Q1261.0,615.0 1270.0,619.3 L1354.9,659.5 Q1358.5,661.2 1354.6,662.0 L1245.6,683.7 Q1224.0,688.0 1204.1,678.6 Z"/><path transform="translate(0,2.80)" d="M1133.8,645.2 Q1130.2,643.5 1134.1,642.6 L1251.2,617.1 Q1261.0,615.0 1270.0,619.3 L1354.9,659.5 Q1358.5,661.2 1354.6,662.0 L1245.6,683.7 Q1224.0,688.0 1204.1,678.6 Z"/><path transform="translate(0,1.87)" d="M1133.8,645.2 Q1130.2,643.5 1134.1,642.6 L1251.2,617.1 Q1261.0,615.0 1270.0,619.3 L1354.9,659.5 Q1358.5,661.2 1354.6,662.0 L1245.6,683.7 Q1224.0,688.0 1204.1,678.6 Z"/><path transform="translate(0,0.93)" d="M1133.8,645.2 Q1130.2,643.5 1134.1,642.6 L1251.2,617.1 Q1261.0,615.0 1270.0,619.3 L1354.9,659.5 Q1358.5,661.2 1354.6,662.0 L1245.6,683.7 Q1224.0,688.0 1204.1,678.6 Z"/></g><path d="M1133.8,645.2 Q1130.2,643.5 1134.1,642.6 L1251.2,617.1 Q1261.0,615.0 1270.0,619.3 L1354.9,659.5 Q1358.5,661.2 1354.6,662.0 L1245.6,683.7 Q1224.0,688.0 1204.1,678.6 Z" fill="url(#p3t)"/>
<path d="M1190.0,510.0 H1298.0 V653.0 A54.0,16.0 0 0 1 1190.0,653.0 Z" fill="#f2b8a0" opacity="0.3"/>
<circle cx="1244.5" cy="618" r="44.2" fill="#e84644"/>
<g fill="none" stroke="#fde6dc" stroke-width="4" stroke-linejoin="round">
<rect x="1224.2" y="595.8" width="42.8" height="17" rx="1"/>
<rect x="1224.2" y="621.2" width="42.8" height="17.2" rx="1"/>
</g>
<g fill="#fde6dc"><circle cx="1232.8" cy="604.4" r="2.3"/><circle cx="1241.2" cy="604.4" r="2.3"/><circle cx="1232.8" cy="629.5" r="2.3"/><circle cx="1241.2" cy="629.5" r="2.3"/></g>
<path d="M199.0,594.5 Q208.1,605.5 213.7,614.2 L212.5,614.5 L199.0,611.9 L185.5,614.5 L184.3,614.2 Q189.9,605.5 199.0,594.5 Z" fill="#4fe0e0"/>
<path d="M289.6,717.2 Q300.3,708.2 308.8,702.7 L309.1,703.9 L306.5,717.2 L309.1,730.5 L308.8,731.7 Q300.3,726.2 289.6,717.2 Z" fill="#4fe0e0"/>
<path d="M646.8,717.2 Q657.5,708.2 666.0,702.7 L666.3,703.9 L663.7,717.2 L666.3,730.5 L666.0,731.7 Q657.5,726.2 646.8,717.2 Z" fill="#4fe0e0"/>
<path d="M868.5,658.8 Q859.2,647.8 853.5,639.1 L854.7,638.8 L868.5,641.4 L882.3,638.8 L883.5,639.1 Q877.8,647.8 868.5,658.8 Z" fill="#4fe0e0"/>
<path d="M1067.0,717.2 Q1056.3,726.2 1047.8,731.7 L1047.5,730.5 L1050.1,717.2 L1047.5,703.9 L1047.8,702.7 Q1056.3,708.2 1067.0,717.2 Z" fill="#4fe0e0"/>
<path d="M1143.0,523.0 Q1132.3,532.0 1123.8,537.5 L1123.5,536.3 L1126.1,523.0 L1123.5,509.7 L1123.8,508.5 Q1132.3,514.0 1143.0,523.0 Z" fill="#4fe0e0"/>
</svg></body></html>
